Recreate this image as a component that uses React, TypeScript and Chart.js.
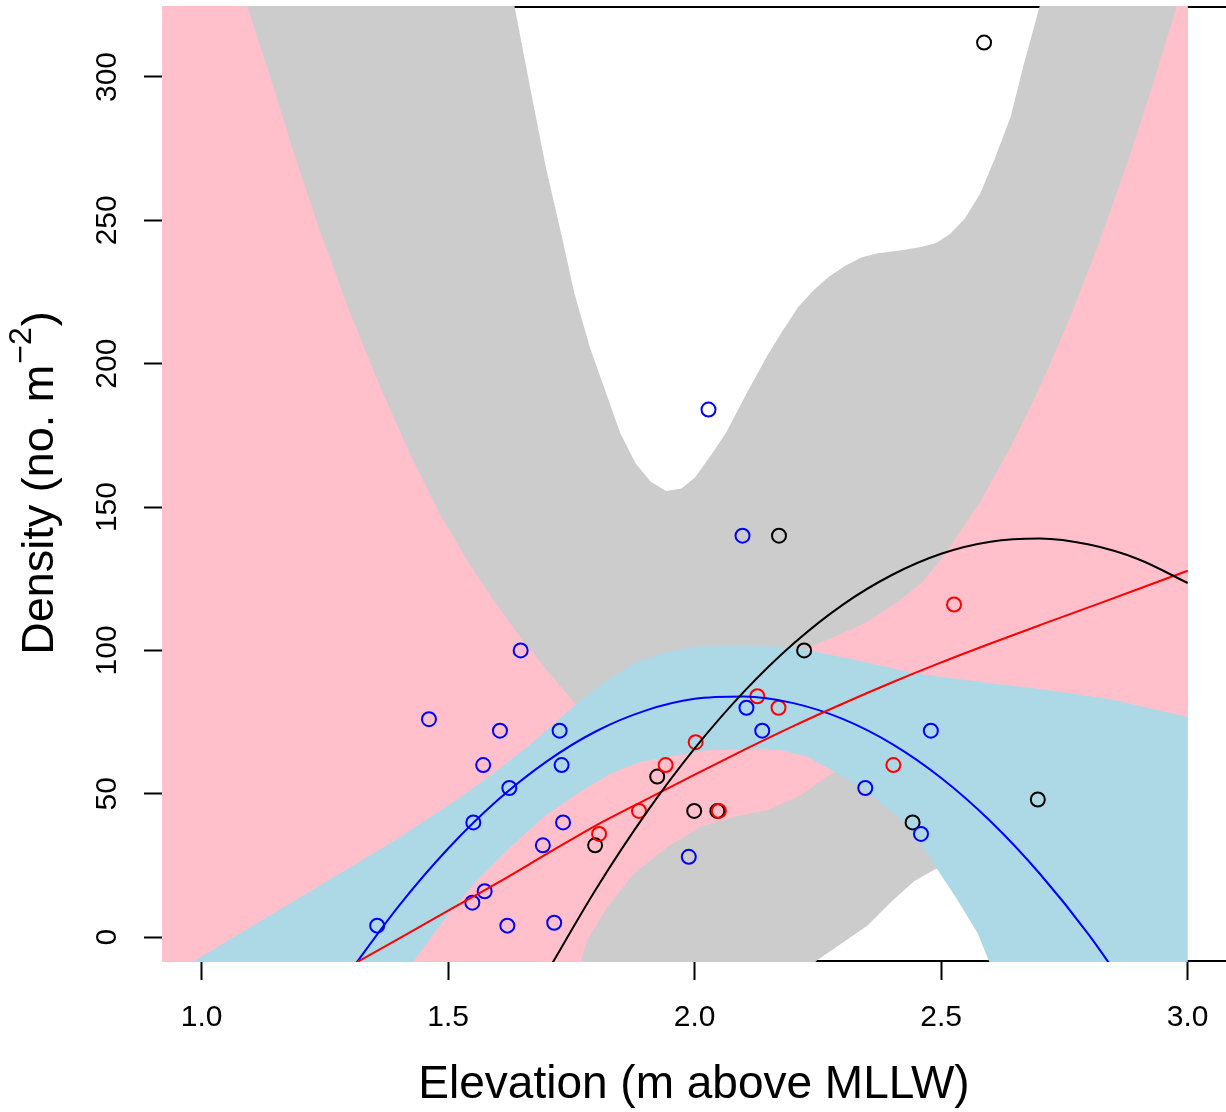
import React, { useEffect, useRef } from "react";
import { Chart, registerables } from "chart.js";

Chart.register(...registerables);

const FONT = "'Liberation Sans', Arial, Helvetica, sans-serif";

// ---- axes ----
const xTickValues = [1.0, 1.5, 2.0, 2.5, 3.0];
const yTickValues = [0, 50, 100, 150, 200, 250, 300];
const X_MIN = 0.9195;
const X_MAX = 3.0777;
const Y_MIN = -8.685;
const Y_MAX = 324.76;
const xTitle = "Elevation (m above MLLW)";
const yTitleMain = "Density (no. m";
const yTitleSup = "\u22122";
const yTitleEnd = ")";

// ---- observed points ----
const blueX = [1.356, 1.461, 1.549, 1.551, 1.571, 1.574, 1.605, 1.62, 1.624, 1.647, 1.692, 1.715, 1.726, 1.73, 1.733, 1.988, 2.028, 2.097, 2.105, 2.137, 2.346, 2.459, 2.479];
const blueY = [4, 76, 12, 40, 60, 16, 72, 4, 52, 100, 32, 5, 72, 60, 40, 28, 184, 140, 80, 72, 52, 36, 72];
const blackX = [1.798, 1.924, 1.999, 2.046, 2.171, 2.222, 2.442, 2.587, 2.696];
const blackY = [32, 56, 44, 44, 140, 100, 40, 312, 48];
const redX = [1.806, 1.887, 1.941, 2.002, 2.049, 2.127, 2.17, 2.403, 2.526];
const redY = [36, 44, 60, 68, 44, 84, 80, 60, 116];

// ---- fitted curves ----
const blueFitX = [1.3, 1.4, 1.5, 1.6, 1.7, 1.8, 1.9, 2.0, 2.1, 2.2, 2.3, 2.4, 2.5, 2.6, 2.7, 2.8, 2.9];
const blueFitY = [-12.2, 10.9, 30.9, 47.7, 61.3, 71.8, 79.0, 83.1, 83.9, 81.6, 76.1, 67.4, 55.5, 40.4, 22.1, 0.7, -24.0];
const redFitX = [1.3, 1.4, 1.5, 1.6, 1.7, 1.8, 1.9, 2.0, 2.1, 2.2, 2.3, 2.4, 2.5, 2.6, 2.7, 2.8, 2.9, 3.0];
const redFitY = [-10.2, -0.5, 9.2, 18.9, 29.0, 39.0, 47.9, 56.7, 65.3, 73.6, 81.4, 88.8, 95.8, 102.4, 108.8, 115.1, 121.4, 127.8];
const blackFitX = [1.7, 1.8, 1.9, 2.0, 2.1, 2.2, 2.3, 2.4, 2.5, 2.6, 2.7, 2.8, 2.9, 3.0];
const blackFitY = [-12.4, 16.8, 42.9, 65.8, 85.6, 102.3, 115.9, 126.3, 133.7, 137.9, 139.0, 136.9, 131.8, 123.5];

// ---- confidence bands (upper / lower bounds) ----
const grayUpperX = [0.91, 1.2, 1.5, 1.6, 1.635, 1.666, 1.698, 1.729, 1.756, 1.787, 1.818, 1.849, 1.88, 1.911, 1.942, 1.973, 2.0, 2.031, 2.063, 2.109, 2.148, 2.179, 2.21, 2.241, 2.272, 2.307, 2.338, 2.369, 2.42, 2.459, 2.49, 2.519, 2.548, 2.579, 2.61, 2.641, 2.668, 2.699, 2.73, 2.8, 3.0];
const grayUpperY = [1500, 900, 480, 358, 324.2, 296.5, 268.6, 245.5, 224.6, 205.9, 190.8, 175.8, 165.3, 158.8, 155.6, 156.5, 160.2, 167.5, 175.7, 190.8, 203.0, 211.7, 219.8, 225.6, 230.3, 234.3, 237.0, 238.4, 239.6, 240.7, 242.1, 245.4, 250.6, 259.3, 272.1, 286.1, 304.7, 324.2, 345, 395, 560];
const grayLowerX = [0.91, 1.5, 2.0, 2.2, 2.249, 2.3, 2.35, 2.4, 2.445, 2.485, 2.55, 2.65, 2.8, 3.0];
const grayLowerY = [-300, -150, -50, -16, -8, -2, 4, 12.5, 19.5, 23.4, 28, 34, 41, 48];

const pinkUpperX = [0.91, 1.0, 1.093, 1.139, 1.185, 1.24, 1.301, 1.362, 1.423, 1.483, 1.538, 1.592, 1.646, 1.7, 1.754, 1.78, 1.82, 1.87, 1.93, 2.0, 2.08, 2.16, 2.229, 2.276, 2.344, 2.412, 2.459, 2.499, 2.54, 2.581, 2.64, 2.7, 2.76, 2.82, 2.88, 2.93, 2.977, 3.0];
const pinkUpperY = [440, 382, 324.4, 300.0, 274.6, 246.2, 217.7, 192.0, 168.2, 147.6, 131.5, 117.5, 104.7, 93.1, 82.1, 77.5, 74.5, 74, 75.5, 80, 87, 94.5, 100.7, 104.2, 109.4, 116.9, 123.4, 131.5, 141.9, 152.4, 170.7, 191.8, 215.5, 242.0, 271.3, 297.7, 324.3, 337];
const pinkLowerX = [0.91, 1.5, 1.7, 1.769, 1.782, 1.823, 1.877, 1.945, 2.012, 2.08, 2.148, 2.215, 2.283, 2.35, 2.45, 2.6, 2.8, 3.0];
const pinkLowerY = [-400, -120, -40, -8.4, -1.0, 10.6, 22.2, 31.5, 38.5, 42.0, 44.3, 49.5, 57.6, 63, 67, 70, 72, 73];

const blueUpperX = [0.91, 0.984, 1.119, 1.254, 1.39, 1.525, 1.593, 1.66, 1.7, 1.755, 1.809, 1.877, 1.945, 2.012, 2.08, 2.148, 2.215, 2.33, 2.445, 2.58, 2.716, 2.851, 3.0];
const blueUpperY = [-16, -8.4, 5.5, 19.5, 33.5, 48.8, 57.3, 66.3, 72.2, 80.5, 88.0, 95.5, 99.5, 101.5, 101.8, 101.5, 100.7, 96.5, 92.0, 89.0, 86.2, 82.7, 76.8];
const blueLowerX = [0.91, 1.2, 1.35, 1.43, 1.491, 1.559, 1.627, 1.694, 1.762, 1.83, 1.89, 2.026, 2.127, 2.175, 2.229, 2.283, 2.344, 2.412, 2.459, 2.493, 2.533, 2.574, 2.597, 2.7, 3.0];
const blueLowerY = [-160, -70, -29, -8.4, 5.9, 19.8, 31.5, 42.0, 50.1, 57.1, 61.2, 65.2, 65.8, 65.2, 62.9, 57.7, 51.3, 42.0, 32.7, 23.4, 12.9, 1.3, -8.4, -55, -200];

const zip = (xs: number[], ys: number[]) => xs.map((x, i) => ({ x, y: ys[i] }));
const polygon = (ux: number[], uy: number[], lx: number[], ly: number[]) => [
  ...zip(ux, uy),
  ...zip(lx, ly).reverse(),
];

const band = (label: string, data: any[], color: string, order: number) => ({
  label,
  data,
  backgroundColor: color,
  borderColor: "rgba(0,0,0,0)",
  borderWidth: 0,
  pointRadius: 0,
  pointHoverRadius: 0,
  tension: 0,
  fill: "shape",
  showLine: true,
  order,
});

const fitLine = (label: string, data: any[], color: string, order: number) => ({
  label,
  data,
  borderColor: color,
  backgroundColor: color,
  borderWidth: 2,
  pointRadius: 0,
  pointHoverRadius: 0,
  fill: false,
  cubicInterpolationMode: "monotone",
  clip: 0,
  order,
});

const pts = (label: string, data: any[], color: string, order: number) => ({
  label,
  data,
  showLine: false,
  fill: false,
  borderColor: color,
  backgroundColor: "rgba(0,0,0,0)",
  pointBorderColor: color,
  pointBackgroundColor: "rgba(0,0,0,0)",
  pointRadius: 7,
  pointHoverRadius: 7,
  pointBorderWidth: 2,
  order,
});

const boxPlugin = {
  id: "rbox",
  beforeDatasetsDraw(chart: any) {
    const { ctx, chartArea: a } = chart;
    ctx.save();
    ctx.strokeStyle = "#000";
    ctx.lineWidth = 2;
    ctx.beginPath();
    ctx.moveTo(a.left, a.top + 1);
    ctx.lineTo(a.right, a.top + 1);
    ctx.moveTo(a.left, a.bottom - 1);
    ctx.lineTo(a.right, a.bottom - 1);
    ctx.moveTo(a.left + 1, a.top);
    ctx.lineTo(a.left + 1, a.bottom);
    ctx.stroke();
    ctx.restore();
  },
};

const yTitlePlugin = {
  id: "ytitle",
  afterDraw(chart: any) {
    const { ctx, chartArea: a } = chart;
    const cy = (a.top + a.bottom) / 2;
    const mainFont = `45px ${FONT}`;
    const supFont = `32px ${FONT}`;
    ctx.save();
    ctx.translate(53, cy);
    ctx.rotate(-Math.PI / 2);
    ctx.fillStyle = "#000";
    ctx.textBaseline = "alphabetic";
    ctx.textAlign = "left";
    ctx.font = mainFont;
    const w1 = ctx.measureText(yTitleMain).width;
    const w3 = ctx.measureText(yTitleEnd).width;
    ctx.font = supFont;
    const w2 = ctx.measureText(yTitleSup).width;
    let x = -(w1 + w2 + w3) / 2;
    ctx.font = mainFont;
    ctx.fillText(yTitleMain, x, 0);
    x += w1;
    ctx.font = supFont;
    ctx.fillText(yTitleSup, x + 1, -22);
    x += w2 + 2;
    ctx.font = mainFont;
    ctx.fillText(yTitleEnd, x, 0);
    ctx.restore();
  },
};

export default function App() {
  const ref = useRef<HTMLCanvasElement | null>(null);

  useEffect(() => {
    if (!ref.current) return;
    const chart = new Chart(ref.current, {
      type: "line",
      data: {
        datasets: [
          band("gray band", polygon(grayUpperX, grayUpperY, grayLowerX, grayLowerY), "#CCCCCC", 30),
          band("pink band", polygon(pinkUpperX, pinkUpperY, pinkLowerX, pinkLowerY), "#FFC0CB", 29),
          band("lightblue band", polygon(blueUpperX, blueUpperY, blueLowerX, blueLowerY), "#ADD8E6", 28),
          pts("black points", zip(blackX, blackY), "#000000", 20),
          pts("blue points", zip(blueX, blueY), "#0000FF", 19),
          pts("red points", zip(redX, redY), "#FF0000", 18),
          fitLine("blue fit", zip(blueFitX, blueFitY), "#0000FF", 12),
          fitLine("red fit", zip(redFitX, redFitY), "#FF0000", 11),
          fitLine("black fit", zip(blackFitX, blackFitY), "#000000", 10),
        ] as any,
      },
      options: {
        animation: false,
        responsive: false,
        devicePixelRatio: 1,
        events: [],
        layout: { padding: { top: 6, left: 0, right: 0, bottom: 0 }, autoPadding: false } as any,
        elements: { line: { capBezierPoints: false } },
        plugins: { legend: { display: false }, tooltip: { enabled: false } },
        scales: {
          x: {
            type: "linear",
            position: "bottom",
            min: X_MIN,
            max: X_MAX,
            bounds: "data",
            afterBuildTicks: (s: any) => {
              s.ticks = xTickValues.map((v) => ({ value: v }));
            },
            afterFit: (s: any) => {
              s.height = 150;
              s.paddingLeft = 0;
              s.paddingRight = 0;
            },
            ticks: {
              autoSkip: false,
              minRotation: 0,
              maxRotation: 0,
              padding: 20,
              color: "#000",
              font: { family: FONT, size: 30 },
              callback: (v: any) => Number(v).toFixed(1),
            },
            grid: { drawOnChartArea: false, drawTicks: true, tickLength: 18, tickWidth: 2, tickColor: "#000" },
            border: { display: false },
            title: {
              display: true,
              text: xTitle,
              color: "#000",
              font: { family: FONT, size: 46, lineHeight: 1 },
              padding: { top: 0, bottom: 4 },
            },
          },
          y: {
            type: "linear",
            position: "left",
            min: Y_MIN,
            max: Y_MAX,
            bounds: "data",
            afterBuildTicks: (s: any) => {
              s.ticks = yTickValues.map((v) => ({ value: v }));
            },
            afterFit: (s: any) => {
              s.width = 162;
              s.paddingTop = 0;
              s.paddingBottom = 0;
            },
            ticks: {
              autoSkip: false,
              minRotation: 90,
              maxRotation: 90,
              crossAlign: "center",
              padding: 11,
              color: "#000",
              font: { family: FONT, size: 30 },
              callback: (v: any) => String(v),
            },
            grid: { drawOnChartArea: false, drawTicks: true, tickLength: 18, tickWidth: 2, tickColor: "#000" },
            border: { display: false },
            title: { display: false },
          },
        },
      } as any,
      plugins: [boxPlugin, yTitlePlugin],
    });
    return () => chart.destroy();
  }, []);

  return (
    <div style={{ position: "absolute", left: 0, top: 0, width: 1226, height: 1112, background: "#fff" }}>
      <canvas ref={ref} width={1226} height={1112} style={{ display: "block" }} />
    </div>
  );
}
